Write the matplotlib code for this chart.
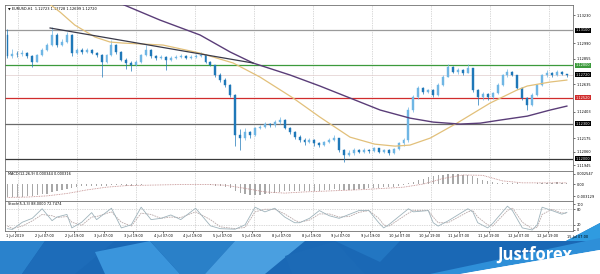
import numpy as np
import matplotlib.pyplot as plt
from matplotlib.patches import Polygon
import matplotlib.transforms as mtransforms

# ======================
# DATA (EURUSD H1)
# ======================
first_open = 1.13060
closes = [
    1.12880, 1.12900, 1.12895, 1.12905, 1.12880, 1.12830, 1.12890, 1.12930, 1.12975, 1.13060,
    1.12975, 1.13000, 1.13060, 1.12905, 1.12930, 1.12915, 1.12930, 1.12905, 1.12887, 1.12830,
    1.12887, 1.12975, 1.12915, 1.12845, 1.12820, 1.12800, 1.12830, 1.12887, 1.12930, 1.12880,
    1.12860, 1.12870, 1.12845, 1.12860, 1.12870, 1.12880, 1.12860, 1.12870, 1.12880, 1.12887,
    1.12830, 1.12800, 1.12715, 1.12673, 1.12630, 1.12545, 1.12200, 1.12175, 1.12230, 1.12200,
    1.12260, 1.12275, 1.12295, 1.12285, 1.12310, 1.12335, 1.12260, 1.12230, 1.12185, 1.12160,
    1.12140, 1.12160, 1.12130, 1.12115, 1.12140, 1.12160, 1.12175, 1.12075, 1.12030, 1.12045,
    1.12075, 1.12060, 1.12075, 1.12065, 1.12090, 1.12060, 1.12075, 1.12045, 1.12080, 1.12130,
    1.12160, 1.12415, 1.12525, 1.12605, 1.12570, 1.12587, 1.12545, 1.12630, 1.12700, 1.12785,
    1.12740, 1.12760, 1.12735, 1.12775, 1.12587, 1.12525, 1.12550, 1.12525, 1.12560, 1.12630,
    1.12715, 1.12740, 1.12715, 1.12605, 1.12520, 1.12460, 1.12545, 1.12630, 1.12715, 1.12735,
    1.12715, 1.12740, 1.12725, 1.12720]
highs = [
    1.13110, 1.12935, 1.12925, 1.12930, 1.12915, 1.12890, 1.12900, 1.12945, 1.12990, 1.13125,
    1.13075, 1.13025, 1.13085, 1.13065, 1.12950, 1.12945, 1.12950, 1.12940, 1.12915, 1.12895,
    1.12900, 1.13015, 1.12985, 1.12925, 1.12860, 1.12835, 1.12845, 1.12900, 1.12975, 1.12935,
    1.12890, 1.12885, 1.12880, 1.12875, 1.12890, 1.12895, 1.12890, 1.12885, 1.12895, 1.12910,
    1.12895, 1.12840, 1.12805, 1.12730, 1.12690, 1.12640, 1.12550, 1.12250, 1.12260, 1.12240,
    1.12275, 1.12290, 1.12310, 1.12305, 1.12330, 1.12360, 1.12340, 1.12275, 1.12240, 1.12200,
    1.12175, 1.12180, 1.12170, 1.12145, 1.12155, 1.12175, 1.12200, 1.12180, 1.12085, 1.12070,
    1.12090, 1.12085, 1.12090, 1.12085, 1.12100, 1.12095, 1.12085, 1.12080, 1.12090, 1.12140,
    1.12175, 1.12440, 1.12545, 1.12620, 1.12615, 1.12600, 1.12595, 1.12645, 1.12715, 1.12810,
    1.12790, 1.12780, 1.12770, 1.12810, 1.12780, 1.12600, 1.12570, 1.12565, 1.12575, 1.12645,
    1.12725, 1.12765, 1.12750, 1.12720, 1.12615, 1.12525, 1.12560, 1.12640, 1.12725, 1.12755,
    1.12745, 1.12760, 1.12750, 1.12728]
lows = [
    1.12860, 1.12865, 1.12870, 1.12880, 1.12865, 1.12785, 1.12825, 1.12880, 1.12920, 1.12965,
    1.12960, 1.12965, 1.12990, 1.12880, 1.12895, 1.12900, 1.12905, 1.12895, 1.12870, 1.12700,
    1.12820, 1.12880, 1.12900, 1.12835, 1.12770, 1.12750, 1.12790, 1.12820, 1.12875, 1.12865,
    1.12845, 1.12850, 1.12760, 1.12840, 1.12850, 1.12860, 1.12850, 1.12855, 1.12860, 1.12870,
    1.12820, 1.12790, 1.12700, 1.12660, 1.12615, 1.12530, 1.12110, 1.12075, 1.12160, 1.12180,
    1.12190, 1.12250, 1.12265, 1.12270, 1.12275, 1.12300, 1.12250, 1.12215, 1.12170, 1.12145,
    1.12120, 1.12130, 1.12110, 1.12100, 1.12105, 1.12130, 1.12150, 1.12060, 1.11970, 1.12020,
    1.12035, 1.12045, 1.12050, 1.12050, 1.12060, 1.12050, 1.12050, 1.12030, 1.12040, 1.12070,
    1.12110, 1.12140, 1.12400, 1.12515, 1.12555, 1.12560, 1.12530, 1.12535, 1.12620, 1.12695,
    1.12730, 1.12725, 1.12720, 1.12730, 1.12570, 1.12460, 1.12505, 1.12505, 1.12515, 1.12555,
    1.12620, 1.12700, 1.12705, 1.12595, 1.12500, 1.12415, 1.12450, 1.12540, 1.12625, 1.12700,
    1.12700, 1.12710, 1.12715, 1.12699]

# moving averages (bar index, price)
ma_fast_bar = [8.0, 10.6, 13.6, 17.7, 20.7, 23.3, 31.4, 38.9, 45.6, 51.0, 57.7, 63.1, 69.2,
               74.2, 78.3, 81.3, 85.4, 90.8, 97.5, 102.9, 105.0, 109.6, 113.0]
ma_fast_val = [1.13340, 1.13256, 1.13144, 1.13041, 1.12999, 1.12990, 1.12973, 1.12904, 1.12819,
               1.12699, 1.12519, 1.12356, 1.12184, 1.12124, 1.12107, 1.12116, 1.12176, 1.12304,
               1.12476, 1.12587, 1.12622, 1.12656, 1.12673]
ma_slow_bar = [21.1, 30.8, 38.9, 45.0, 49.6, 57.1, 63.1, 69.2, 75.3, 81.3, 86.0, 91.4, 95.5,
               99.5, 105.0, 109.6, 113.0]
ma_slow_val = [1.13360, 1.13187, 1.13059, 1.12913, 1.12819, 1.12716, 1.12622, 1.12519, 1.12416,
               1.12347, 1.12313, 1.12296, 1.12304, 1.12330, 1.12364, 1.12416, 1.12450]
trend_bar = [8.6, 49.6]
trend_val = [1.13119, 1.12819]

levels = [1.13100, 1.12800, 1.12520, 1.12300, 1.12000]
level_colors = ["#9a9a9a", "#3c9a3c", "#d02c2c", "#6a6a6a", "#3a3a3a"]
price_now = 1.12720
price_ticks = [1.13230, 1.12990, 1.12855, 1.12635, 1.12403, 1.12175, 1.12060, 1.11945]

macd_hist = [
    -0.0034, -0.0034, -0.0033, -0.0032, -0.0031, -0.0030, -0.0028, -0.0026, -0.0024, -0.0020,
    -0.0018, -0.0015, -0.0012, -0.0010, -0.0008, -0.0006, -0.0005, -0.0004, -0.0004, -0.0004,
    -0.0004, -0.0002, -0.0002, -0.0003, -0.0004, -0.0004, -0.0003, -0.0002, -0.0001, -0.0001,
    -0.0001, -0.0001, -0.0001, -0.0001, -0.0001, 0.0000, 0.0000, 0.0000, 0.0000, 0.0000,
    -0.0001, -0.0002, -0.0004, -0.0006, -0.0008, -0.0011, -0.0018, -0.0023, -0.0026, -0.0028,
    -0.0028, -0.0027, -0.0025, -0.0024, -0.0022, -0.0019, -0.0018, -0.0018, -0.0018, -0.0018,
    -0.0018, -0.0017, -0.0017, -0.0017, -0.0016, -0.0015, -0.0013, -0.0014, -0.0015, -0.0015,
    -0.0014, -0.0013, -0.0012, -0.0011, -0.0010, -0.0009, -0.0008, -0.0008, -0.0007, -0.0005,
    -0.0003, 0.0002, 0.0006, 0.0010, 0.0014, 0.0017, 0.0020, 0.0022, 0.0024, 0.0025,
    0.0025, 0.0025, 0.0024, 0.0023, 0.0020, 0.0015, 0.0011, 0.0007, 0.0004, 0.0003,
    0.0003, 0.0003, 0.0003, 0.0002, 0.0001, 0.0000, 0.0001, 0.0002, 0.0003, 0.0003,
    0.0003, 0.0004, 0.0003, 0.0003]
macd_sig_bar = [0, 4, 8, 12, 16, 20, 24, 28, 32, 36, 40, 44, 48, 52, 56, 60, 64, 68, 72, 76,
                80, 84, 88, 92, 96, 100, 104, 108, 113]
macd_sig_val = [-0.0034, -0.0033, -0.0030, -0.0024, -0.0015, -0.0008, -0.0004, -0.0003, -0.0002,
                -0.0001, -0.0001, -0.0003, -0.0011, -0.0020, -0.0023, -0.0020, -0.0018, -0.0016,
                -0.0014, -0.0011, -0.0008, 0.0000, 0.0014, 0.0023, 0.0022, 0.0008, 0.0003,
                0.0003, 0.0003]

stoch_bar = [0, 1, 3, 5, 7, 9, 10, 12, 13, 15, 17, 18, 21, 23, 25, 27, 29, 31, 33, 35, 38, 41,
             43, 46, 48, 50, 52, 54, 56, 58, 59, 61, 63, 65, 67, 69, 71, 73, 75, 76, 77, 81, 82,
             85, 86, 87, 89, 93, 94, 95, 97, 98, 101, 102, 104, 106, 107, 108, 110, 111, 112, 113]
stoch_k = [5, 2, 30, 45, 82, 36, 50, 60, 8, 30, 67, 40, 84, 8, 20, 88, 40, 45, 58, 40, 84, 16,
           5, 3, 20, 88, 70, 84, 50, 28, 28, 45, 75, 55, 45, 60, 75, 75, 28, 8, 20, 82, 70,
           75, 28, 15, 35, 82, 70, 28, 8, 25, 92, 75, 8, 0, 20, 88, 75, 68, 61, 68]
stoch_d = [15, 6, 15, 35, 60, 55, 48, 52, 30, 18, 50, 52, 70, 30, 15, 65, 60, 45, 50, 48, 70, 40,
           12, 5, 10, 70, 80, 80, 62, 38, 30, 38, 62, 62, 50, 52, 68, 75, 45, 20, 14, 65, 75,
           75, 50, 28, 28, 70, 75, 50, 20, 15, 75, 85, 30, 5, 10, 60, 80, 72, 66, 65]

time_labels = ["1 Jul 2019", "2 Jul 07:00", "2 Jul 19:00", "3 Jul 07:00", "3 Jul 19:00",
               "4 Jul 07:00", "4 Jul 19:00", "5 Jul 07:00", "5 Jul 19:00", "8 Jul 07:00",
               "8 Jul 19:00", "9 Jul 07:00", "9 Jul 19:00", "10 Jul 07:00", "10 Jul 19:00",
               "11 Jul 07:00", "11 Jul 19:00", "12 Jul 07:00", "12 Jul 19:00", "15 Jul 07:00"]

# ======================
# FIGURE / LAYOUT (pixel based)
# ======================
W, H = 600, 274
fig = plt.figure(figsize=(6, 2.74), dpi=100)
fs = 2.5


def px_axes(x0, y0, x1, y1):
    return fig.add_axes([x0 / W, 1 - y1 / H, (x1 - x0) / W, (y1 - y0) / H])


bg = fig.add_axes([0, 0, 1, 1])
bg.set_xlim(0, W)
bg.set_ylim(H, 0)
bg.axis("off")

# banner
facets = [
    ([(0, 241), (566, 241), (600, 223), (600, 248), (460, 274), (0, 274)], "#1a68b5"),
    ([(0, 241), (45, 241), (22, 274), (0, 274)], "#2a82cc"),
    ([(45, 241), (115, 241), (75, 274), (22, 274)], "#1d6cb9"),
    ([(95, 252), (150, 241), (180, 274), (105, 274)], "#3a95dc"),
    ([(150, 241), (235, 241), (205, 274), (180, 274)], "#2a80c8"),
    ([(235, 241), (305, 241), (265, 274), (205, 274)], "#4a9fe0"),
    ([(285, 256), (335, 241), (365, 274), (292, 274)], "#1c6ab6"),
    ([(335, 241), (400, 241), (380, 262)], "#2276c2"),
    ([(566, 241), (600, 223), (600, 241)], "#2f9be0"),
    ([(430, 274), (600, 238), (600, 250), (460, 274)], "#2e8fd8"),
    ([(460, 274), (600, 250), (600, 274)], "white"),
]
for pts, col in facets:
    bg.add_patch(Polygon(pts, closed=True, fc=col, ec="none"))
bg.text(535, 255, "Justforex", color="white", fontsize=12, fontweight="bold",
        family="Open Sans", ha="center", va="center")
bg.text(542, 268, "JUST COMFORTABLE TRADING", color="white", fontsize=2.6,
        fontweight="bold", ha="center", va="center")

ax = px_axes(5, 5, 573, 171)
am = px_axes(5, 171, 573, 201)
ast = px_axes(5, 201, 573, 231)

n = len(closes)
x = np.arange(n)
xlim = (-0.505, 114.24)
grid_pos = [2.12 + 11.92 * k for k in range(10)]
label_pos = [(15 + 29.6 * k - 7.5) / 4.95 for k in range(len(time_labels))]

for a in (ax, am, ast):
    a.set_xlim(*xlim)
    for s in a.spines.values():
        s.set_color("#707070")
        s.set_linewidth(0.6)
    for g in grid_pos:
        a.axvline(g, color="#b4b4b4", lw=0.5, ls=(0, (1, 1.5)), zorder=0)
    a.yaxis.tick_right()
    a.tick_params(axis="y", labelsize=fs, length=1.5, width=0.4, pad=1)
    a.tick_params(axis="x", length=0, labelbottom=False)

# ======================
# MAIN PRICE PANEL
# ======================
ax.set_ylim(1.11894, 1.13316)
o = np.array([first_open] + closes[:-1])
c = np.array(closes)
hi = np.maximum(np.array(highs), np.maximum(o, c))
lo = np.minimum(np.array(lows), np.minimum(o, c))
up = c >= o
bull, bear = "#6fb6e4", "#1f78b8"
cols = np.where(up, bull, bear)
ax.vlines(x, lo, hi, colors=cols, lw=0.5, zorder=3)
body = np.where(np.abs(c - o) < 0.00001, 0.00001, c - o)
ax.bar(x, body, bottom=o, width=0.4, color=cols, edgecolor=cols, lw=0.3, zorder=4)

for lvl, col in zip(levels, level_colors):
    ax.axhline(lvl, color=col, lw=0.9, zorder=2)
ax.axhline(price_now, color="#e0cccc", lw=0.5, zorder=1)

ax.plot(ma_fast_bar, ma_fast_val, color="#e2c07a", lw=0.9, zorder=5)
ax.plot(ma_slow_bar, ma_slow_val, color="#5a3d78", lw=1.0, zorder=5)
ax.plot(trend_bar, trend_val, color="#3a3a4a", lw=0.9, zorder=5)

ax.set_yticks(price_ticks)
ax.set_yticklabels([f"{p:.5f}" for p in price_ticks])

tr = mtransforms.blended_transform_factory(ax.transAxes, ax.transData)
box_cols = ["black", "#3c9a3c", "#d02c2c", "black", "black"]
for lvl, bc in list(zip(levels, box_cols)) + [(price_now, "black")]:
    ax.text(1.005, lvl, f"{lvl:.5f}", transform=tr, fontsize=fs, color="white",
            va="center", ha="left", clip_on=False,
            bbox=dict(boxstyle="square,pad=0.15", fc=bc, ec="none"))

ax.text(0.006, 0.99, "\u25BC EURUSD,H1  1.12723 1.12728 1.12699 1.12720",
        transform=ax.transAxes, fontsize=fs, va="top", ha="left")

# ======================
# MACD PANEL
# ======================
am.set_ylim(-0.0043, 0.0033)
am.bar(x, macd_hist, width=0.25, color="#a8a8a8", zorder=3)
am.plot(macd_sig_bar, macd_sig_val, color="#c08888", lw=0.6, ls=(0, (1, 1)), zorder=4)
am.set_yticks([0.002547, 0.0, -0.003129])
am.set_yticklabels(["0.002547", "0.00", "-0.003129"])
am.text(0.006, 0.96, "MACD(12,26,9) 0.000344 0.000316", transform=am.transAxes,
        fontsize=fs, va="top", ha="left")

# ======================
# STOCHASTIC PANEL
# ======================
ast.set_ylim(-4, 112)
ast.axhline(80, color="#b4b4b4", lw=0.5, ls=(0, (1, 1.5)))
ast.axhline(20, color="#b4b4b4", lw=0.5, ls=(0, (1, 1.5)))
ast.plot(stoch_bar, stoch_k, color="#9fb3bb", lw=0.6, zorder=4)
ast.plot(stoch_bar, stoch_d, color="#b9a9a9", lw=0.6, ls=(0, (2, 1)), zorder=3)
ast.set_yticks([100, 80, 20, 0])
ast.set_yticklabels(["100", "80", "20", "0"])
ast.text(0.006, 0.96, "Stoch(5,3,3) 88.0000 72.7474", transform=ast.transAxes,
         fontsize=fs, va="top", ha="left")

inside = [(p, t) for p, t in zip(label_pos, time_labels) if p <= xlim[1]]
outside = [(p, t) for p, t in zip(label_pos, time_labels) if p > xlim[1]]
ast.set_xticks([p for p, _ in inside])
ast.set_xticklabels([t for _, t in inside])
ast.tick_params(axis="x", labelbottom=True, labelsize=fs, length=1.5, width=0.4, pad=1)
trx = mtransforms.blended_transform_factory(ast.transData, ast.transAxes)
for p, t in outside:
    ast.text(p, -0.12, t, transform=trx, fontsize=fs, ha="center", va="top", clip_on=False)

fig.savefig("out.png", dpi=100)
